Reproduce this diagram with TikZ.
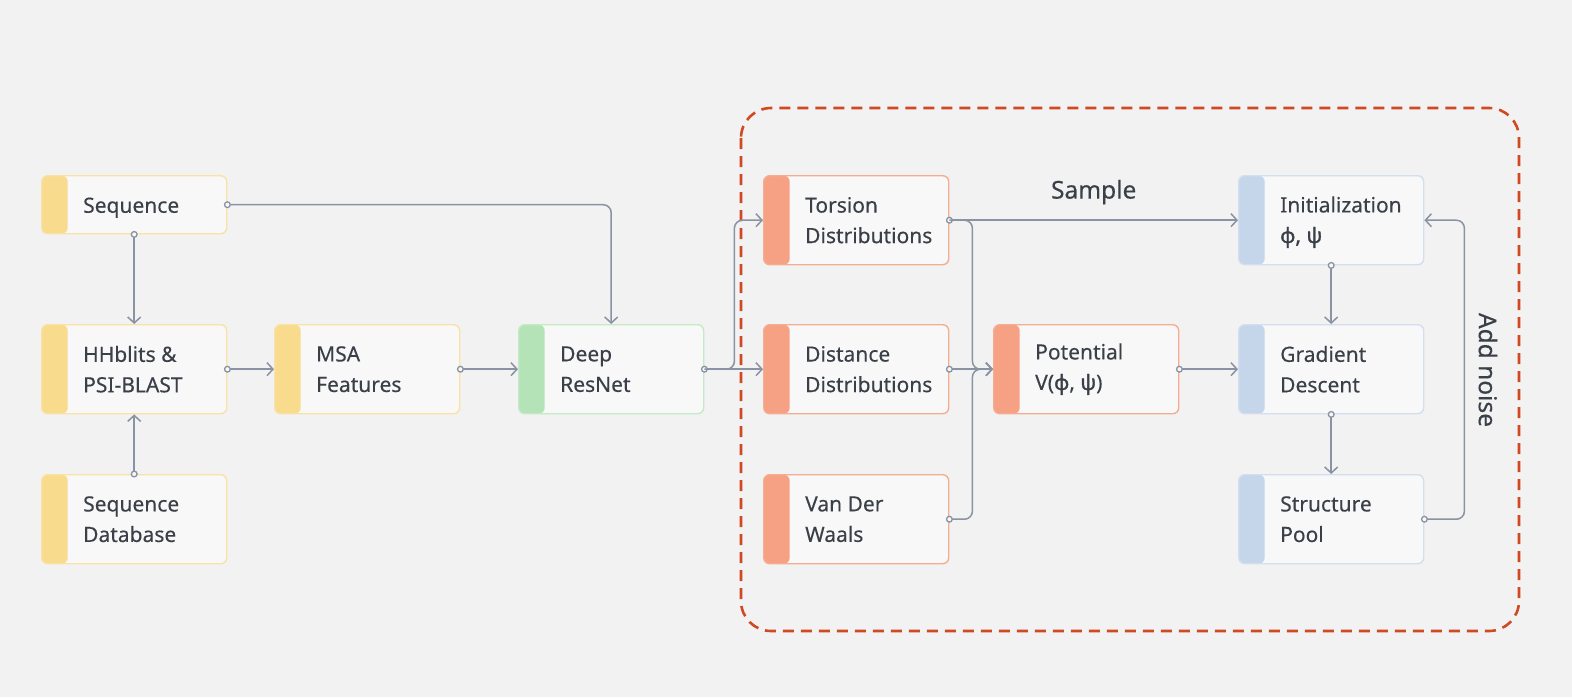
\documentclass[tikz,border=0pt]{standalone}
\usepackage{fontspec}
\setmainfont{Noto Sans}[FakeBold=0.25, AutoFakeBold=2.2]
\newfontfamily\grb{Noto Sans}[FakeBold=1.6]
\usetikzlibrary{arrows.meta}
\definecolor{bg}{HTML}{F2F2F2}
\definecolor{boxfill}{HTML}{F8F8F8}
\definecolor{yband}{HTML}{F9DB8E}
\definecolor{yline}{HTML}{F8E2A6}
\definecolor{gband}{HTML}{B5E3B8}
\definecolor{gline}{HTML}{C4EAC6}
\definecolor{oband}{HTML}{F6A183}
\definecolor{oline}{HTML}{F5AC90}
\definecolor{bband}{HTML}{C5D6EB}
\definecolor{bline}{HTML}{D3DEEE}
\definecolor{conn}{HTML}{8A93A3}
\definecolor{txt}{HTML}{3A3F48}
\definecolor{dashcol}{HTML}{CF4A22}
\tikzset{
  box/.style n args={2}{rectangle, rounded corners=6pt, minimum width=185pt,
    minimum height=89pt, anchor=north west, fill=boxfill, draw=#2, line width=1.4pt,
    inner sep=0pt,
    path picture={\fill[#1] (path picture bounding box.north west) rectangle
      ([xshift=26pt]path picture bounding box.south west);}},
  lbl/.style={anchor=west, align=left, inner sep=0pt, text=txt,
    font=\fontsize{21}{30.5}\selectfont},
  conn/.style={draw=conn, line width=1.5pt, rounded corners=8pt,
    {Circle[length=7pt, fill=boxfill, line width=1.3pt]}-{Straight Barb[length=6pt, width=13pt, line width=1.5pt]},
    shorten <=-3.5pt},
  plain/.style={draw=conn, line width=1.5pt, rounded corners=8pt,
    -{Straight Barb[length=6pt, width=13pt, line width=1.5pt]}},
}
\begin{document}
\begin{tikzpicture}[x=1pt,y=-1pt]
\fill[bg] (0,0) rectangle (1572,697);
\useasboundingbox (0,0) rectangle (1572,697);

% dashed frame
\draw[dashcol, line width=2.6pt, dash pattern=on 11pt off 7pt, rounded corners=30pt]
  (741,108) rectangle (1519,631);

% boxes
\node[box={yband}{yline}, minimum height=58pt] (seq) at (41,175) {};
\node[box={yband}{yline}] (hh) at (41,324) {};
\node[box={yband}{yline}] (db) at (41,474) {};
\node[box={yband}{yline}] (msa) at (274,324) {};
\node[box={gband}{gline}] (res) at (518,324) {};
\node[box={oband}{oline}] (tor) at (763,175) {};
\node[box={oband}{oline}] (dist) at (763,324) {};
\node[box={oband}{oline}] (vdw) at (763,474) {};
\node[box={oband}{oline}] (pot) at (993,324) {};
\node[box={bband}{bline}] (init) at (1238,175) {};
\node[box={bband}{bline}] (grad) at (1238,324) {};
\node[box={bband}{bline}] (pool) at (1238,474) {};

% labels
\node[lbl] (seqT) at ([xshift=42pt, yshift=-3pt]seq.west) {Sequence};
\node[lbl] (hhT) at ([xshift=42pt]hh.west) {HHblits \&\\PSI-BLAST};
\node[lbl] (dbT) at ([xshift=42pt]db.west) {Sequence\\Database};
\node[lbl] (msaT) at ([xshift=42pt]msa.west) {MSA\\Features};
\node[lbl] (resT) at ([xshift=42pt]res.west) {Deep\\ResNet};
\node[lbl] (torT) at ([xshift=42pt]tor.west) {Torsion\\Distributions};
\node[lbl] (distT) at ([xshift=42pt]dist.west) {Distance\\Distributions};
\node[lbl] (vdwT) at ([xshift=42pt]vdw.west) {Van Der\\Waals};
\node[lbl] (potT) at ([xshift=42pt]pot.west) {Potential\\V({\grb φ}, {\grb ψ})};
\node[lbl] (initT) at ([xshift=42pt, yshift=-2pt]init.west) {Initialization\\{\grb φ, ψ}};
\node[lbl] (gradT) at ([xshift=42pt]grad.west) {Gradient\\Descent};
\node[lbl] (poolT) at ([xshift=42pt]pool.west) {Structure\\Pool};

% connectors
\draw[conn] (seq.south) -- (hh.north);
\draw[conn] (db.north) -- (hh.south);
\draw[conn] (hh.east) -- (msa.west);
\draw[conn] (msa.east) -- (res.west);
\draw[conn] (seq.east) -| (res.north);
\draw[conn] (res.east) -- (dist.west);
\draw[plain] (res.east) -- ++(30,0) |- (tor.west);
\draw[conn] (tor.east) -- (init.west)
  node[midway, above=15pt, text=txt, inner sep=0pt, font=\fontsize{24.5}{28}\selectfont] (sampleT) {Sample};
\draw[plain] (tor.east) -- ++(23,0) |- (pot.west);
\draw[conn] (dist.east) -- (pot.west);
\draw[conn] (vdw.east) -- ++(23,0) |- (pot.west);
\draw[conn] (pot.east) -- (grad.west);
\draw[conn] (init.south) -- (grad.north);
\draw[conn] (grad.south) -- (pool.north);
\draw[conn] (pool.east) -- ++(40,0) |- (init.east);
\node[rotate=-90, text=txt, inner sep=0pt, font=\fontsize{24.5}{28}\selectfont] (noiseT) at (1488,370) {Add noise};
\end{tikzpicture}
\end{document}
